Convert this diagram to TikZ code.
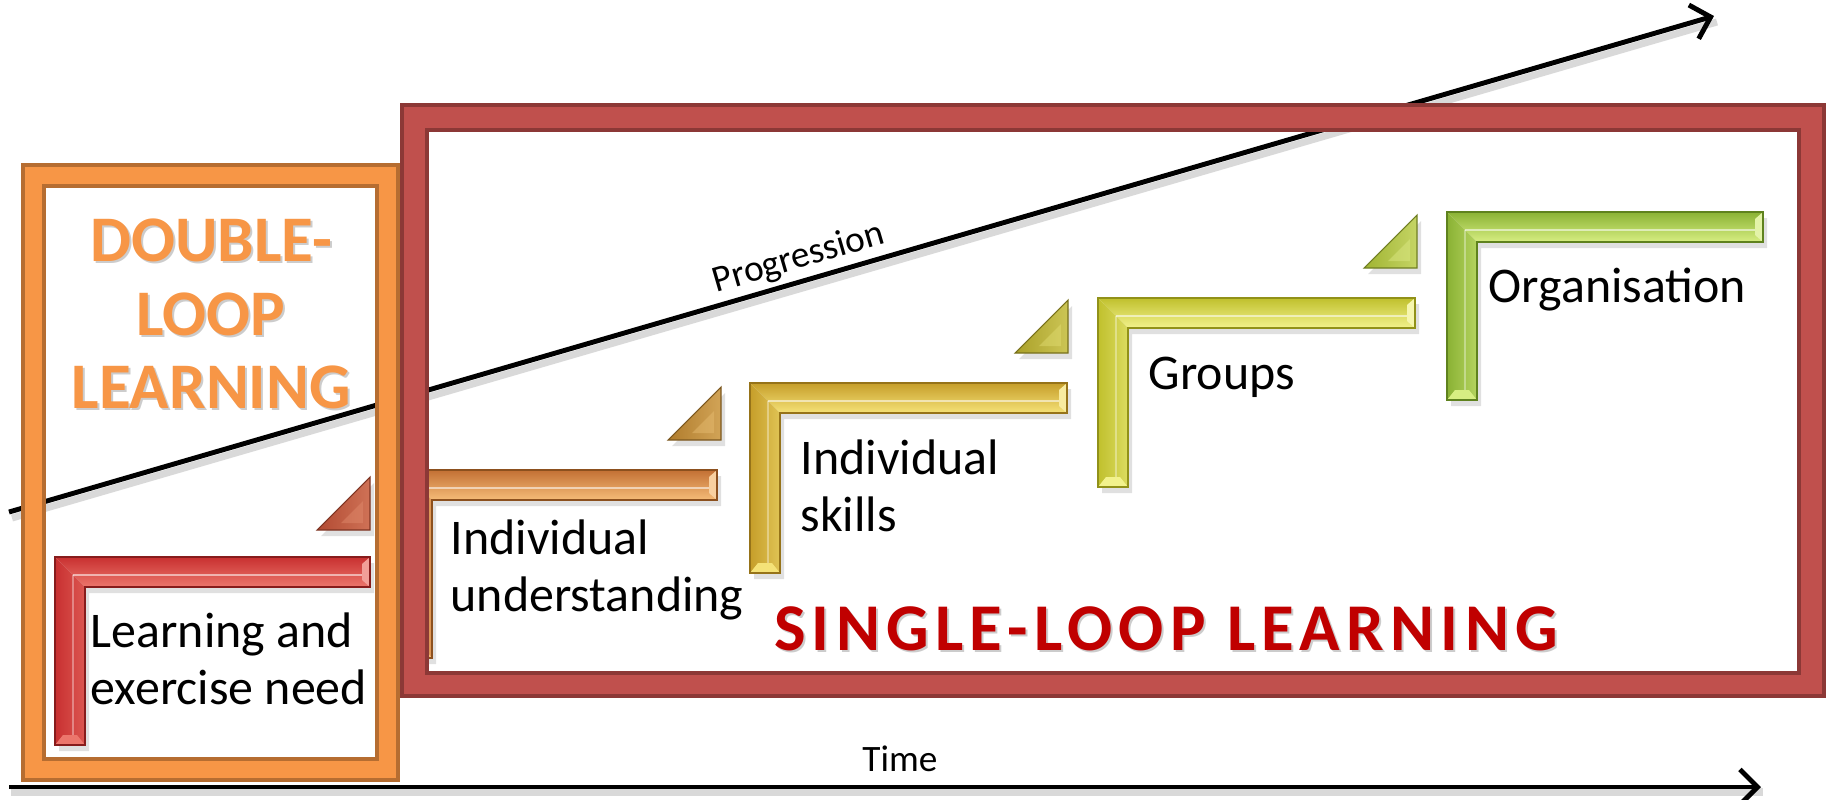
\documentclass[tikz,border=0pt]{standalone}
\usepackage{fontspec}
\setmainfont{Carlito}
\newfontfamily\spacedcaps[LetterSpace=9.4]{Carlito}
\usetikzlibrary{arrows.meta}

% frame colours
\definecolor{frameorange}{HTML}{F79646}
\definecolor{frameorangedark}{HTML}{B66D31}
\definecolor{framered}{HTML}{C0504D}
\definecolor{frameredark}{HTML}{8C3836}
\definecolor{singlered}{HTML}{C00000}
% stair colours
\definecolor{sabase}{RGB}{200,48,48}\definecolor{salight}{RGB}{236,118,108}\definecolor{sadark}{RGB}{135,28,28}
\definecolor{sbbase}{RGB}{195,112,52}\definecolor{sblight}{RGB}{245,188,120}\definecolor{sbdark}{RGB}{140,80,30}
\definecolor{scbase}{RGB}{198,158,42}\definecolor{sclight}{RGB}{245,226,120}\definecolor{scdark}{RGB}{150,115,25}
\definecolor{sdbase}{RGB}{192,192,45}\definecolor{sdlight}{RGB}{242,242,140}\definecolor{sddark}{RGB}{145,145,25}
\definecolor{sebase}{RGB}{138,178,52}\definecolor{selight}{RGB}{215,238,130}\definecolor{sedark}{RGB}{95,130,30}
% wedge colours
\definecolor{wbbase}{RGB}{178,74,50}\definecolor{wblight}{RGB}{226,140,110}
\definecolor{wcbase}{RGB}{176,124,44}\definecolor{wclight}{RGB}{232,190,115}
\definecolor{wdbase}{RGB}{170,160,40}\definecolor{wdlight}{RGB}{226,222,115}
\definecolor{webase}{RGB}{160,180,50}\definecolor{welight}{RGB}{222,234,135}

% one bevelled L-shaped stair: name, x0, y0, width, height, colour prefix
\newcommand\stairbar[6]{%
  \coordinate (#1) at (#2,#3);
  \fill[black, opacity=0.12] (#2+4,#3+6) -- (#2+#4+4,#3+6) -- (#2+#4+4,#3+36)
    -- (#2+34,#3+36) -- (#2+34,#3+#5+6) -- (#2+4,#3+#5+6) -- cycle;
  \shade[top color=#6base, bottom color=#6light]
    (#2,#3) -- (#2+#4,#3) -- (#2+#4,#3+30) -- (#2+30,#3+30) -- cycle;
  \shade[left color=#6base, right color=#6light!55!#6base]
    (#2,#3) -- (#2+30,#3+30) -- (#2+30,#3+#5) -- (#2,#3+#5) -- cycle;
  \draw[white, opacity=0.55, line width=0.7pt] (#2+18,#3+18) -- (#2+#4-7,#3+18);
  \draw[white, opacity=0.35, line width=0.7pt] (#2+18,#3+18) -- (#2+18,#3+#5-8);
  \fill[#6light] (#2,#3+#5) -- (#2+30,#3+#5) -- (#2+22,#3+#5-10) -- (#2+8,#3+#5-10) -- cycle;
  \fill[#6light!70!white] (#2+#4,#3) -- (#2+#4,#3+30) -- (#2+#4-8,#3+23) -- (#2+#4-8,#3+7) -- cycle;
  \draw[#6dark, line width=0.4pt] (#2,#3) -- (#2+#4,#3) -- (#2+#4,#3+30) -- (#2+30,#3+30)
    -- (#2+30,#3+#5) -- (#2,#3+#5) -- cycle;
}
% one bevelled wedge: name, right x, bottom y, size, colour prefix
\newcommand\stairwedge[5]{%
  \coordinate (#1) at (#2,#3);
  \fill[black, opacity=0.12] (#2-#4+4,#3+6) -- (#2+4,#3+6) -- (#2+4,#3-#4+6) -- cycle;
  \shade[left color=#5base, right color=#5light!60!#5base] (#2-#4,#3) -- (#2,#3) -- (#2,#3-#4) -- cycle;
  \fill[#5light, opacity=0.45] (#2-#4+24,#3-7) -- (#2-7,#3-7) -- (#2-7,#3-#4+24) -- cycle;
  \draw[#5base!70!black, line width=0.3pt] (#2-#4,#3) -- (#2,#3) -- (#2,#3-#4) -- cycle;
}

\tikzset{
  axis/.style={line width=1.4pt, -{Straight Barb[length=5pt, width=10pt, line width=1.4pt]}},
  axisshadow/.style={line width=2pt, black, opacity=0.15},
  steplabel/.style={anchor=west, align=left, inner sep=0pt, font=\fontsize{14.2}{16.2}\selectfont},
  smalllabel/.style={font=\fontsize{10.6}{12}\selectfont, inner sep=0pt},
  frame/.style={even odd rule, line width=0.9pt},
}

\begin{document}
\begin{tikzpicture}[x=0.01cm, y=-0.01cm]
\useasboundingbox (0,0) rectangle (1826,799);

% progression axis
\coordinate (progstart) at (9,512);
\coordinate (progend) at (1714,16);
\draw[axisshadow] ([shift={(3,6)}]progstart) -- ([shift={(3,6)}]progend);
\draw[axis] (progstart) -- node[sloped, above, pos=0.467, smalllabel, inner sep=1.2pt] (proglabel) {Progression} (progend);

% stairs and wedges
\stairbar{stepa}{55}{557}{315}{188}{sa}
\stairbar{stepb}{402}{470}{315}{188}{sb}
\stairbar{stepc}{750}{383}{317}{190}{sc}
\stairbar{stepd}{1098}{298}{317}{189}{sd}
\stairbar{stepe}{1447}{212}{316}{188}{se}
\stairwedge{wedgeb}{370}{530}{53}{wb}
\stairwedge{wedgec}{721}{440}{53}{wc}
\stairwedge{wedged}{1068}{353}{53}{wd}
\stairwedge{wedgee}{1417}{268}{53}{we}

% frames
\path[frame, fill=frameorange, draw=frameorangedark] (23,165) rectangle (398,780) (44,186) rectangle (377,759);
\path[frame, fill=framered, draw=frameredark] (402,105) rectangle (1824,696) (427,130) rectangle (1799,673);

% time axis
\coordinate (timestart) at (9,787);
\coordinate (timeend) at (1761,787);
\draw[axisshadow] ([shift={(2,5)}]timestart) -- ([shift={(2,5)}]timeend);
\draw[axis] (timestart) -- (timeend);
\node[smalllabel] (timelabel) at (900,759) {Time};

% stair labels
\node[steplabel] (need) at (90,659) {Learning and\\exercise need};
\node[steplabel] (understanding) at (450,570) {Individual\\understanding};
\node[steplabel] (skills) at (800,486) {Individual\\skills};
\node[steplabel] (groups) at (1148,377) {Groups};
\node[steplabel] (organisation) at (1488,290) {Organisation};

% frame titles
\node[align=center, inner sep=0pt, text=black!20, font=\fontsize{18.5}{21}\selectfont\bfseries] at (213,316) {DOUBLE-\\LOOP\\LEARNING};
\node[align=center, inner sep=0pt, text=frameorange, font=\fontsize{18.5}{21}\selectfont\bfseries] (double) at (211,314) {DOUBLE-\\LOOP\\LEARNING};
\node[inner sep=0pt, text=black!20, font=\spacedcaps\fontsize{19}{22}\selectfont\bfseries] at (1168,631) {SINGLE-LOOP LEARNING};
\node[inner sep=0pt, text=singlered, font=\spacedcaps\fontsize{19}{22}\selectfont\bfseries] (single) at (1166,629) {SINGLE-LOOP LEARNING};
\end{tikzpicture}
\end{document}
